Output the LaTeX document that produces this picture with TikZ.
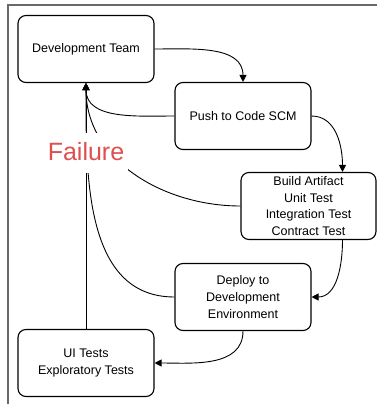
\documentclass[tikz,border=0pt]{standalone}
\usepackage{fontspec}
\setmainfont{Liberation Sans}
\usepackage{xcolor}
\usetikzlibrary{positioning,arrows.meta}
\definecolor{failred}{RGB}{222,79,79}
\definecolor{framegray}{RGB}{105,105,105}
\tikzset{
  stage/.style={draw, rounded corners=8pt, line width=1.1pt, minimum width=136pt,
    minimum height=67pt, align=center, font=\fontsize{12.5pt}{16.7pt}\selectfont},
  flow/.style={-{Triangle[length=7pt,width=7pt]}, line width=0.9pt}, % a curved arrow
  flag/.style={fill=white, text=failred, font=\fontsize{25pt}{30pt}\selectfont,
    inner xsep=4pt, inner ysep=9pt, text depth=4pt}
}

\begin{document}
\begin{tikzpicture}[x=1pt, y=-1pt, on grid, every edge/.style={draw, flow}]
  \useasboundingbox (0,0) rectangle (377,404);
  % Frame
  \draw[framegray, line width=1.3pt] (8,404) -- (8,5) -- (377,5);

  % Stages
  \node[stage] (dev) at (86,49) {Development Team};
  \node[stage, below right=67pt and 157pt of dev] (push) {Push to Code SCM};
  \node[stage, minimum width=135pt, below right=90pt and 65.5pt of push] (build)
    {Build Artifact\\Unit Test\\Integration Test\\Contract Test};
  \node[stage, below left=91pt and 65.5pt of build] (deploy) {Deploy to\\Development\\Environment};
  \node[stage, below left=66pt and 157pt of deploy] (ui) {UI Tests\\Exploratory Tests};

  % Forward
  \path (dev.east) edge[out=0, in=90] (push.north)
        (push.east) edge[out=0, in=90] ([xshift=34pt]build.north)
        ([xshift=34pt]build.south) edge[out=-90, in=0] (deploy.east)
        (deploy.south) edge[out=-90, in=0] (ui.east);

  % Back to the team
  \path (push.west) edge[out=180, in=-90] (dev.south)
        (build.west) edge[out=180, in=-90] (dev.south)
        (deploy.west) edge[out=180, in=-90] (dev.south)
        (ui.north) edge (dev.south);

  % Label
  \node[flag, below=104pt of dev] (fail) {Failure};
\end{tikzpicture}
\end{document}
